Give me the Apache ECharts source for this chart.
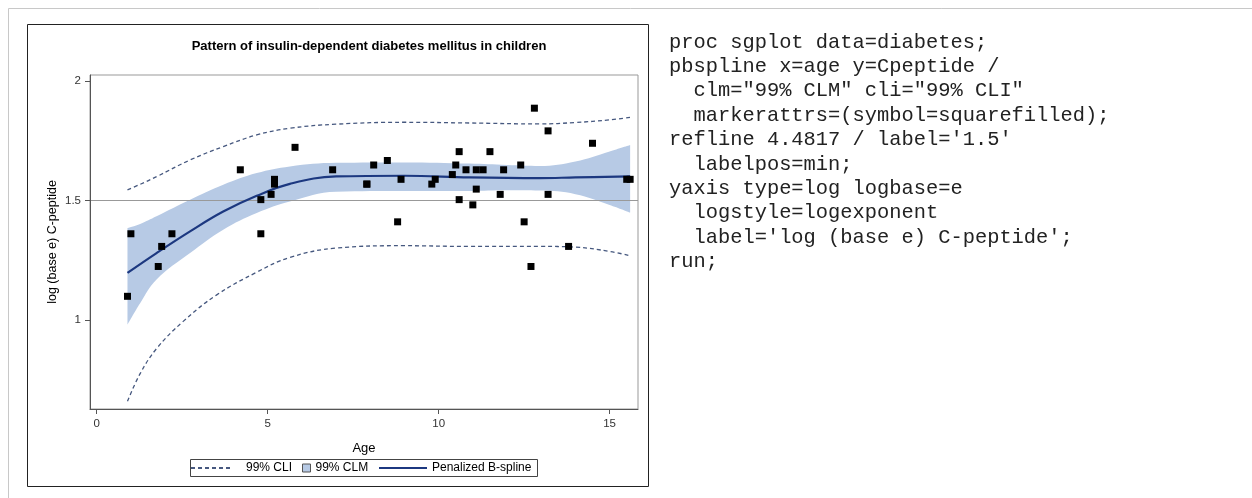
<!DOCTYPE html>
<html>
<head>
<meta charset="utf-8">
<script src="https://cdn.jsdelivr.net/npm/echarts@6/dist/echarts.min.js"></script>
<style>
  html, body { margin: 0; padding: 0; background: #fff; }
  #chart { width: 1252px; height: 498px; }
</style>
</head>
<body>
<div id="chart"></div>
<script>
// points: age and log(C-peptide)
var ages = [5.2, 8.8, 10.5, 10.6, 10.4, 1.8, 12.7, 15.6, 5.8, 1.9, 2.2, 4.8, 7.9, 5.2, 0.9,
  11.8, 7.9, 11.5, 10.6, 8.5, 11.1, 12.8, 11.3, 1.0, 14.5, 11.9, 8.1, 13.8, 15.5, 9.8,
  11.0, 12.4, 11.1, 5.1, 4.8, 4.2, 6.9, 13.2, 9.9, 12.5, 13.2, 8.9, 10.8];
var logCpeptide = [1.569, 1.411, 1.649, 1.705, 1.609, 1.224, 1.224, 1.589, 1.723, 1.308, 1.361, 1.504, 1.569, 1.589, 1.099,
  1.526, 1.569, 1.705, 1.504, 1.668, 1.548, 1.887, 1.629, 1.361, 1.740, 1.629, 1.649, 1.308, 1.589, 1.569,
  1.482, 1.649, 1.629, 1.526, 1.361, 1.629, 1.629, 1.792, 1.589, 1.411, 1.526, 1.589, 1.629];

// penalized B-spline fit
var fitX = [0.9, 1.75, 2.73, 3.7, 4.68, 5.65, 7.0, 9.0, 10.9, 12.96, 14.0, 15.6];
var fitY = [1.197, 1.28, 1.371, 1.454, 1.52, 1.57, 1.601, 1.604, 1.597, 1.594, 1.597, 1.601];

// 99% CLM band
var bandX = [0.9, 1.27, 1.75, 2.73, 3.7, 4.68, 5.65, 7.0, 9.0, 10.9, 12.0, 12.96, 14.0, 15.0, 15.6];
var bandUpper = [1.385, 1.402, 1.434, 1.503, 1.566, 1.615, 1.643, 1.658, 1.660, 1.655, 1.649, 1.645, 1.664, 1.706, 1.733];
var bandLower = [0.98, 1.07, 1.169, 1.28, 1.378, 1.448, 1.496, 1.537, 1.540, 1.540, 1.543, 1.542, 1.527, 1.482, 1.45];

// 99% CLI limits
var cliUpperX = [0.9, 1.27, 1.75, 2.73, 3.7, 4.68, 5.65, 7.0, 9.0, 10.9, 12.96, 14.0, 15.0, 15.6];
var cliUpper = [1.545, 1.568, 1.60, 1.67, 1.726, 1.775, 1.803, 1.82, 1.828, 1.825, 1.821, 1.827, 1.838, 1.849];
var cliLowerX = [0.9, 1.27, 1.75, 2.53, 3.51, 4.68, 5.65, 7.0, 9.0, 10.9, 12.96, 14.0, 15.0, 15.6];
var cliLower = [0.659, 0.775, 0.88, 0.994, 1.105, 1.2, 1.262, 1.301, 1.311, 1.308, 1.308, 1.305, 1.287, 1.269];

var xTicks = [0, 5, 10, 15];
var yTicks = [1, 1.5, 2];
var refValue = 1.5;

var codeLines = [
  'proc sgplot data=diabetes;',
  'pbspline x=age y=Cpeptide /',
  '  clm="99% CLM" cli="99% CLI"',
  '  markerattrs=(symbol=squarefilled);',
  "refline 4.4817 / label='1.5'",
  '  labelpos=min;',
  'yaxis type=log logbase=e',
  '  logstyle=logexponent',
  "  label='log (base e) C-peptide';",
  'run;'
];

function zip(xs, ys) {
  return xs.map(function (x, i) { return [x, ys[i]]; });
}

// band rows are [y, x] so the stack runs on y (encode maps them back)
var bandBase = bandX.map(function (x, i) { return [bandLower[i], x]; });
var bandWidth = bandX.map(function (x, i) { return [bandUpper[i] - bandLower[i], x]; });

var sans = '"Liberation Sans", Arial, sans-serif';
var bandColor = '#B7CAE5';
var fitColor = '#1C3880';
var cliColor = '#46587F';

var chart = echarts.init(document.getElementById('chart'));
chart.setOption({
  animation: false,
  backgroundColor: '#fff',
  title: {
    text: 'Pattern of insulin-dependent diabetes mellitus in children',
    left: 364,
    top: 35,
    textAlign: 'center',
    textStyle: { fontFamily: sans, fontSize: 13, fontWeight: 'bold', color: '#000' }
  },
  grid: {
    left: 90, top: 75, width: 548, height: 334,
    show: true, borderColor: '#999', borderWidth: 1, backgroundColor: '#fff'
  },
  legend: [{
    left: 190, top: 462, itemWidth: 42, itemHeight: 10, padding: 0,
    itemStyle: { opacity: 0 },
    data: ['99% CLI'],
    textStyle: { fontFamily: sans, fontSize: 12, color: '#000', padding: [0, 0, 0, 8] }
  }, {
    left: 302, top: 462, itemWidth: 8, itemHeight: 8, padding: 0,
    data: [{ name: '99% CLM', icon: 'rect', itemStyle: { color: bandColor, borderColor: '#555', borderWidth: 1 } }],
    textStyle: { fontFamily: sans, fontSize: 12, color: '#000' }
  }, {
    left: 378, top: 462, itemWidth: 48, itemHeight: 10, padding: 0,
    itemStyle: { opacity: 0 },
    data: ['Penalized B-spline'],
    textStyle: { fontFamily: sans, fontSize: 12, color: '#000' }
  }],
  xAxis: {
    type: 'value', min: -0.196, max: 15.83, z: 5,
    name: 'Age', nameLocation: 'middle', nameGap: 33,
    nameTextStyle: { fontFamily: sans, fontSize: 13, color: '#000' },
    axisLine: { show: true, onZero: false, lineStyle: { color: '#555' } },
    axisTick: { show: true, length: 5, customValues: xTicks, lineStyle: { color: '#555' } },
    axisLabel: { customValues: xTicks, margin: 9, fontFamily: sans, fontSize: 11.5, color: '#333' },
    splitLine: { show: false }
  },
  yAxis: {
    type: 'value', min: 0.627, max: 2.026, z: 5,
    name: 'log (base e) C-peptide', nameLocation: 'middle', nameGap: 31,
    nameTextStyle: { fontFamily: sans, fontSize: 12.5, color: '#000' },
    axisLine: { show: true, onZero: false, lineStyle: { color: '#555' } },
    axisTick: { show: true, length: 5, customValues: yTicks, lineStyle: { color: '#555' } },
    axisLabel: { customValues: yTicks, margin: 9, fontFamily: sans, fontSize: 11.5, color: '#333' },
    splitLine: { show: false }
  },
  graphic: [{
    type: 'rect', silent: true,
    shape: { x: 8.5, y: 8.5, width: 1260, height: 500 },
    style: { fill: null, stroke: '#c8c8c8', lineWidth: 1 }
  }, {
    type: 'rect', silent: true,
    shape: { x: 27.5, y: 24.5, width: 621, height: 462 },
    style: { fill: null, stroke: '#222', lineWidth: 1 }
  }, {
    type: 'rect', silent: true,
    shape: { x: 190.5, y: 459.5, width: 347, height: 17 },
    style: { fill: null, stroke: '#444', lineWidth: 1 }
  }, {
    type: 'text', silent: true, left: 669, top: 30,
    style: {
      text: codeLines.join('\n'),
      font: '20.4px "Liberation Mono", "Courier New", monospace',
      lineHeight: 24.4,
      fill: '#222'
    }
  }],
  series: [{
    name: 'bandBase', type: 'line', stack: 'clm', smooth: 0.4, symbol: 'none', z: 1,
    encode: { x: 1, y: 0 },
    data: bandBase,
    lineStyle: { width: 0, opacity: 0 }
  }, {
    name: '99% CLM', type: 'line', stack: 'clm', smooth: 0.4, symbol: 'none', z: 1,
    encode: { x: 1, y: 0 },
    data: bandWidth,
    itemStyle: { color: bandColor },
    lineStyle: { width: 0, opacity: 0 },
    areaStyle: { color: bandColor, opacity: 1 }
  }, {
    name: '99% CLI', type: 'line', smooth: 0.4, symbol: 'none', z: 3,
    data: zip(cliUpperX, cliUpper),
    itemStyle: { color: cliColor },
    lineStyle: { color: cliColor, width: 1.3, type: [4, 3] }
  }, {
    name: '99% CLI', type: 'line', smooth: 0.4, symbol: 'none', z: 3,
    data: zip(cliLowerX, cliLower),
    itemStyle: { color: cliColor },
    lineStyle: { color: cliColor, width: 1.3, type: [4, 3] }
  }, {
    name: 'Penalized B-spline', type: 'line', smooth: 0.4, symbol: 'none', z: 4,
    data: zip(fitX, fitY),
    itemStyle: { color: fitColor },
    lineStyle: { color: fitColor, width: 2.2 }
  }, {
    name: 'Cpeptide', type: 'scatter', symbol: 'rect', symbolSize: 7, z: 6,
    data: zip(ages, logCpeptide),
    itemStyle: { color: '#000', opacity: 1 },
    markLine: {
      silent: true, symbol: 'none', z: 3,
      label: { show: false },
      lineStyle: { color: '#999', width: 1, type: 'solid' },
      data: [{ yAxis: refValue }]
    }
  }]
});
</script>
</body>
</html>
